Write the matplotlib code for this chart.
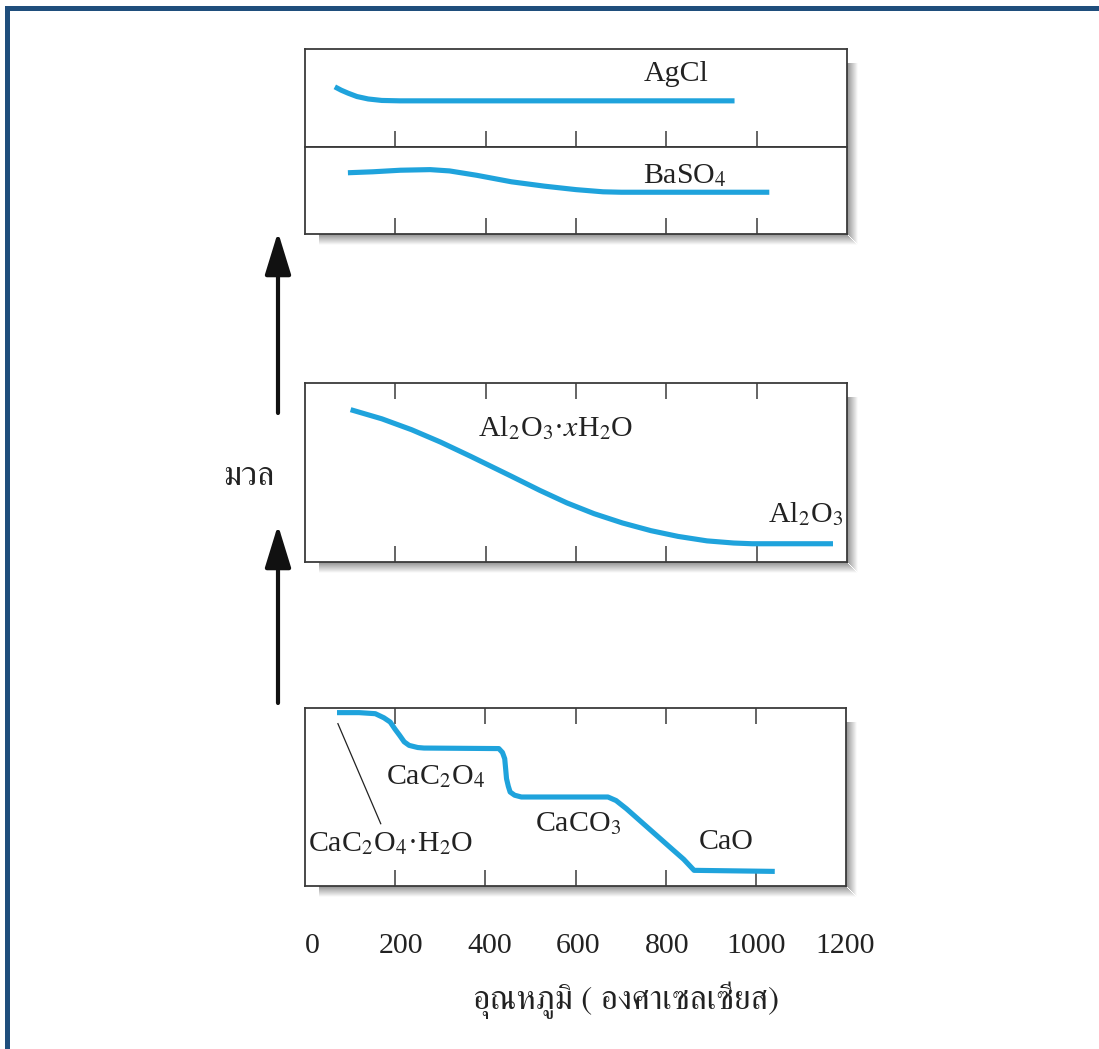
import matplotlib
matplotlib.use("Agg")
import matplotlib.pyplot as plt
from matplotlib.patches import Rectangle, FancyArrowPatch
from matplotlib import font_manager
from matplotlib.ft2font import FT2Font

# ---------------- data ----------------
tick_values = [200, 400, 600, 800, 1000]
tick_label_values = [0, 200, 400, 600, 800, 1000, 1200]

agcl_t = [66, 80, 95, 115, 140, 170, 210, 951]
agcl_m = [0.614, 0.58, 0.55, 0.515, 0.49, 0.475, 0.471, 0.471]

baso4_t = [95, 150, 211, 277, 320, 380, 457, 530, 600, 660, 700, 1028]
baso4_m = [0.704, 0.715, 0.733, 0.74, 0.725, 0.675, 0.60, 0.55, 0.51, 0.485, 0.48, 0.48]

al_t = [101, 170, 236, 300, 367, 457, 520, 580, 640, 703, 766, 826, 890, 949, 990, 1169]
al_m = [0.851, 0.80, 0.739, 0.67, 0.59, 0.479, 0.40, 0.33, 0.27, 0.218, 0.175, 0.143, 0.118, 0.106, 0.102, 0.102]

ca_t = [71, 120, 156, 175, 189, 200, 210, 220, 231, 250, 264, 430, 438, 443, 445, 447, 451,
        455, 465, 480, 672, 690, 713, 763, 813, 840, 863, 1042]
ca_m = [0.974, 0.974, 0.968, 0.945, 0.921, 0.88, 0.846, 0.81, 0.79, 0.778, 0.775, 0.772, 0.75,
        0.715, 0.66, 0.603, 0.56, 0.528, 0.51, 0.50, 0.50, 0.48, 0.434, 0.322, 0.21, 0.15, 0.088, 0.082]

x_label = "อุณหภูมิ ( องศาเซลเซียส)"
y_label = "มวล"

# ---------------- fonts ----------------
def fonts_with(ch):
    names = []
    for f in font_manager.fontManager.ttflist:
        try:
            ft = FT2Font(f.fname)
            if ft.get_char_index(ord(ch)):
                names.append(f.name)
        except Exception:
            pass
    return names

thai_fonts = fonts_with("ม")
thai_pref = [n for n in thai_fonts if "Serif" in n] + thai_fonts
thai_family = ([thai_pref[0]] if thai_pref else []) + ["Liberation Serif", "DejaVu Sans"]

plt.rcParams["font.family"] = ["Liberation Serif", "DejaVu Serif"]
plt.rcParams["mathtext.fontset"] = "stix"

W, H = 1099, 1049
fig = plt.figure(figsize=(W / 100, H / 100), dpi=100)
fig.patch.set_facecolor("white")

def fr(x, y):
    return x / W, 1 - y / H

def rect(x0, y0, x1, y1):
    return [x0 / W, 1 - y1 / H, (x1 - x0) / W, (y1 - y0) / H]

LINE = "#1fa3dc"
FRAME = "#3a3a3a"

def shadow(x0, y0, x1, y1, n=11):
    for k in range(n):
        g = 0.58 + 0.40 * k / (n - 1)
        c = (g, g, g)
        fx, fy = fr(x1 + k, y1 + k)
        fx2, fy2 = fr(x1 + k + 1, y0 + 14)
        fig.add_artist(Rectangle((fx, fy), fx2 - fx, fy2 - fy, transform=fig.transFigure,
                                 facecolor=c, edgecolor="none", zorder=0))
        bx, by = fr(x0 + 14, y1 + k + 1)
        bx2, by2 = fr(x1 + k, y1 + k)
        fig.add_artist(Rectangle((bx, by), bx2 - bx, by2 - by, transform=fig.transFigure,
                                 facecolor=c, edgecolor="none", zorder=0))

def make_ax(x0, y0, x1, y1, top_ticks, bottom_ticks):
    ax = fig.add_axes(rect(x0, y0, x1, y1))
    ax.set_xlim(0, 1200)
    ax.set_ylim(0, 1)
    ax.set_yticks([])
    ax.set_xticks(tick_values)
    ax.tick_params(axis="x", direction="in", length=11.5, width=1.1, color=FRAME,
                   top=top_ticks, bottom=bottom_ticks, labelbottom=False, labeltop=False)
    for s in ax.spines.values():
        s.set_color(FRAME)
        s.set_linewidth(1.3)
    ax.set_zorder(2)
    return ax

shadow(305, 49, 847, 234)
shadow(305, 383, 847, 562)
shadow(305, 708, 846, 886)

ax_ag = make_ax(305, 49, 847, 147, False, True)
ax_ba = make_ax(305, 147, 847, 234, False, True)
ax_al = make_ax(305, 383, 847, 562, True, True)
ax_ca = make_ax(305, 708, 846, 886, True, True)

lw = 3.7
ax_ag.plot(agcl_t, agcl_m, color=LINE, lw=lw, solid_capstyle="butt")
ax_ba.plot(baso4_t, baso4_m, color=LINE, lw=lw, solid_capstyle="butt")
ax_al.plot(al_t, al_m, color=LINE, lw=lw, solid_capstyle="butt")
ax_ca.plot(ca_t, ca_m, color=LINE, lw=lw, solid_capstyle="butt")

fs = 21.5
tc = "#222222"
ax_ag.text(822, 0.75, "AgCl", fontsize=fs, ha="center", va="center", color=tc)
ax_ba.text(842, 0.667, r"BaSO$_4$", fontsize=fs, ha="center", va="center", color=tc)
ax_al.text(554, 0.748, r"Al$_2$O$_3$·$x$H$_2$O", fontsize=fs, ha="center", va="center", color=tc)
ax_al.text(1108, 0.27, r"Al$_2$O$_3$", fontsize=fs, ha="center", va="center", color=tc)
ax_ca.text(290, 0.612, r"CaC$_2$O$_4$", fontsize=fs, ha="center", va="center", color=tc)
ax_ca.text(605, 0.35, r"CaCO$_3$", fontsize=fs, ha="center", va="center", color=tc)
ax_ca.text(934, 0.247, "CaO", fontsize=fs, ha="center", va="center", color=tc)
ax_ca.text(6, 0.238, r"CaC$_2$O$_4$·H$_2$O", fontsize=fs, ha="left", va="center", color=tc)
ax_ca.plot([73, 168], [0.912, 0.35], color="#222222", lw=0.9)

# tick-label axis
ax_lab = fig.add_axes(rect(312, 929, 845, 930))
ax_lab.set_xlim(0, 1200)
ax_lab.set_ylim(0, 1)
ax_lab.set_yticks([])
ax_lab.set_xticks(tick_label_values)
ax_lab.set_xticklabels([str(v) for v in tick_label_values], fontsize=21.5, color=tc)
ax_lab.tick_params(axis="x", length=0, pad=2)
for s in ax_lab.spines.values():
    s.set_visible(False)
ax_lab.patch.set_alpha(0)

# axis titles
fx, fy = fr(626, 1000)
fig.text(fx, fy, x_label, fontsize=24, ha="center", va="center", color=tc, family=thai_family)
fx, fy = fr(249, 477)
fig.text(fx, fy, y_label, fontsize=24, ha="center", va="center", color=tc, family=thai_family)

# arrows
for (yb, yt) in [(413, 232), (703, 525)]:
    a = FancyArrowPatch(fr(278, yb), fr(278, yt), transform=fig.transFigure,
                        arrowstyle="-|>,head_length=1.3,head_width=0.4", mutation_scale=20,
                        lw=3, color="#111111", shrinkA=0, shrinkB=0)
    fig.add_artist(a)

# page border
BLUE = "#1f4e7c"
x0, y0 = fr(5, 11)
x1, y1 = fr(1099, 6)
fig.add_artist(Rectangle((x0, y0), x1 - x0, y1 - y0, transform=fig.transFigure,
                         facecolor=BLUE, edgecolor="none"))
x0, y0 = fr(5, 1049)
x1, y1 = fr(10, 6)
fig.add_artist(Rectangle((x0, y0), x1 - x0, y1 - y0, transform=fig.transFigure,
                         facecolor=BLUE, edgecolor="none"))

fig.savefig("out.png", dpi=100, facecolor="white")
